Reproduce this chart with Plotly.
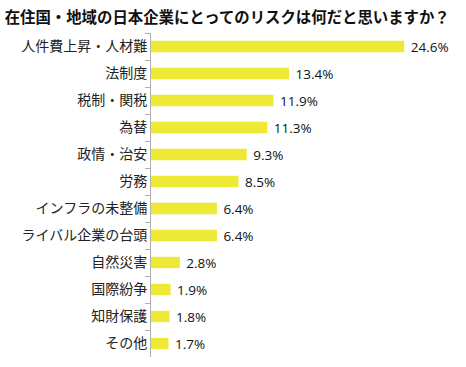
import plotly.graph_objects as go

title = "在住国・地域の日本企業にとってのリスクは何だと思いますか？"
categories = ["人件費上昇・人材難", "法制度", "税制・関税", "為替", "政情・治安", "労務",
              "インフラの未整備", "ライバル企業の台頭", "自然災害", "国際紛争", "知財保護", "その他"]
values = [24.6, 13.4, 11.9, 11.3, 9.3, 8.5, 6.4, 6.4, 2.8, 1.9, 1.8, 1.7]

fig = go.Figure(go.Bar(
    x=values, y=categories, orientation="h",
    marker=dict(color="#EEE935", line=dict(width=0)),
    text=[f" {v:.1f}%" for v in values],
    textposition="outside",
    constraintext="none",
    textfont=dict(family="Open Sans, Noto Sans, sans-serif", size=13.5, color="#111"),
    cliponaxis=False,
    width=0.42,
    hoverinfo="skip",
))

fig.update_layout(
    width=466, height=367,
    margin=dict(l=151, r=0, t=33, b=10, autoexpand=False),
    paper_bgcolor="white", plot_bgcolor="white",
    showlegend=False,
    title=dict(text="<b>" + title + "</b>", x=0.01, xanchor="left", y=0.952, yanchor="middle",
               font=dict(family="Noto Sans CJK JP", size=15.4, color="#111")),
    xaxis=dict(range=[0, 30.6], visible=False, fixedrange=True),
    yaxis=dict(autorange="reversed", showline=True, linecolor="#B0B0B0", linewidth=1,
               automargin=False, fixedrange=True,
               ticks="outside", ticklen=5, tickcolor="#B0B0B0", tickson="boundaries",
               showgrid=False, tickfont=dict(family="Noto Sans CJK JP", size=14, color="#222")),
)

fig.write_html("out.html", config={"displayModeBar": False},
               post_script="document.body.style.margin='0px';")
